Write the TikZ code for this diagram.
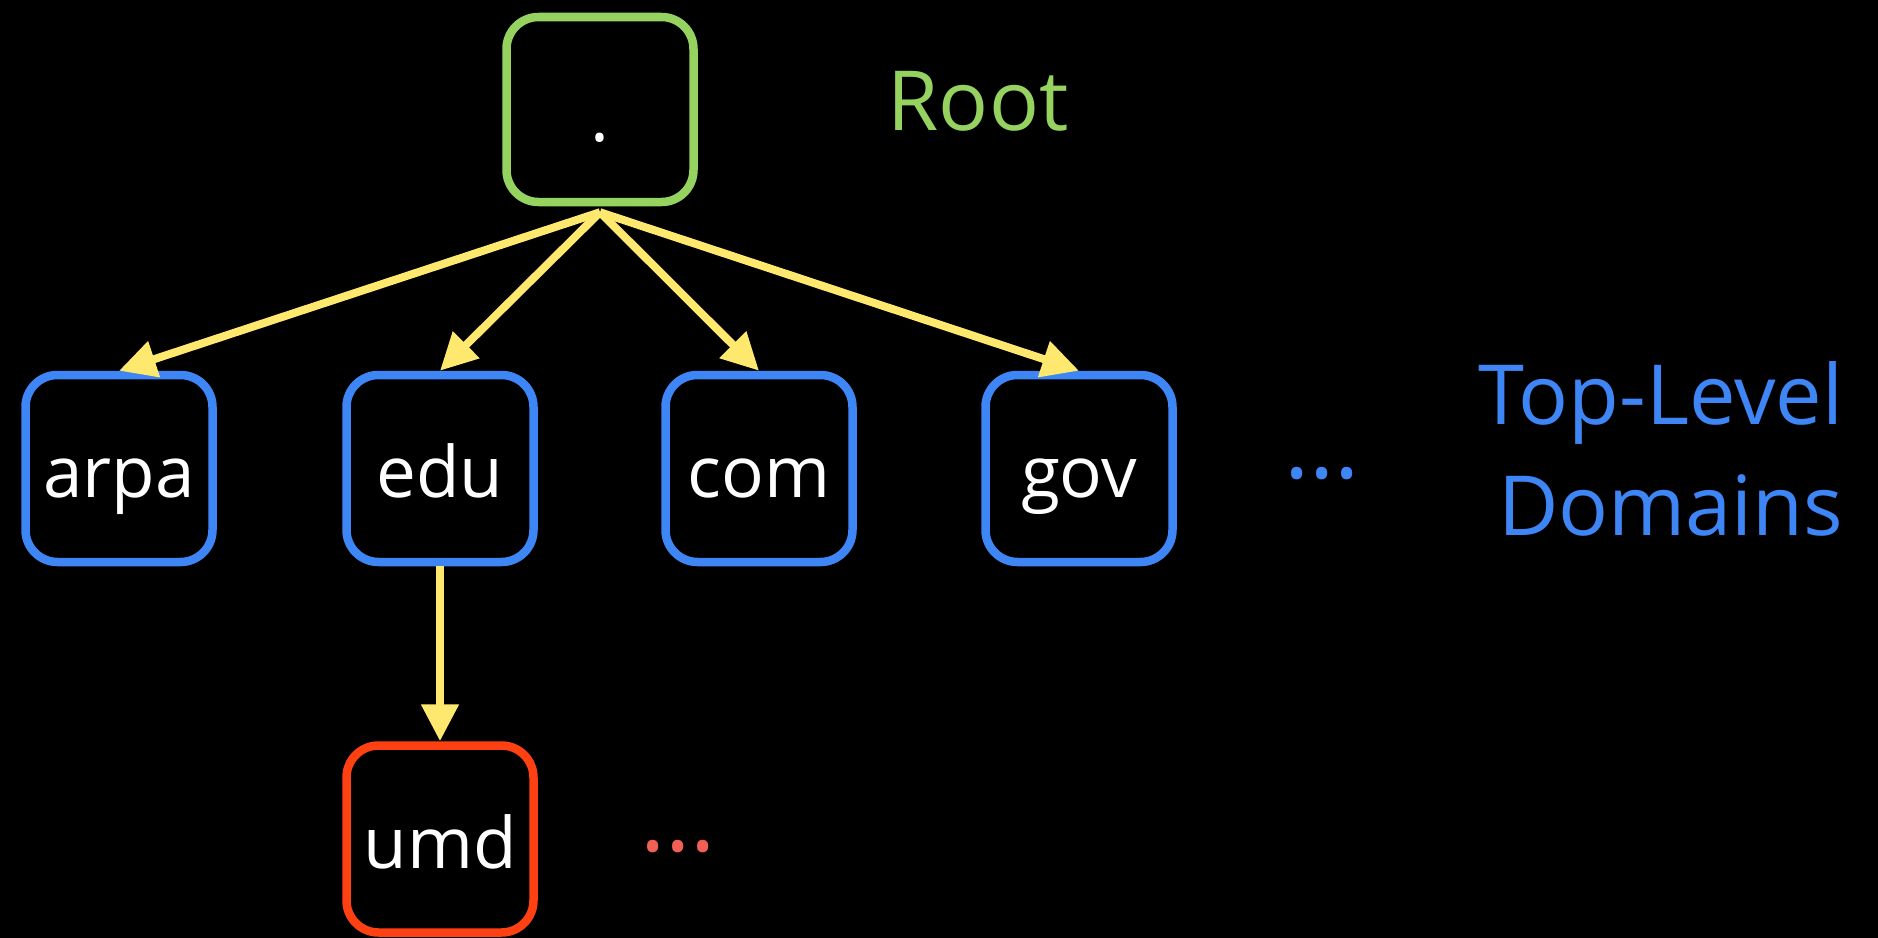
\documentclass[tikz,border=0pt]{standalone}
\usepackage{fontspec}
\setmainfont{Open Sans}
\usetikzlibrary{arrows.meta}
\definecolor{rootgreen}{RGB}{150,210,95}
\definecolor{tldblue}{RGB}{62,134,245}
\definecolor{linkyellow}{RGB}{255,232,110}
\definecolor{umdred}{RGB}{255,64,18}
\definecolor{dotred}{RGB}{240,96,85}
\begin{document}
\begin{tikzpicture}[every node/.style={rectangle, inner sep=0pt, text=white}, text centered,
	dnsbox/.style={draw, line width=.085cm, rounded corners=.32cm, minimum width=1.87cm, minimum height=1.87cm,
		font=\fontsize{20.2pt}{24pt}\selectfont, text height=.78cm, text depth=.2cm},
	link/.style={draw=linkyellow, line width=.08cm, -{Triangle[width=.36cm, length=.37cm]}},
	caption/.style={font=\fontsize{23.6pt}{31.3pt}\selectfont}]
	\fill[black] (0,0) rectangle (18.78,-9.38);
	\useasboundingbox (0,0) rectangle (18.78,-9.38);
	\node[dnsbox, draw=rootgreen, minimum height=1.85cm, text height=.81cm, text depth=.16cm] (root) at (6.00,-1.095) {.};
	\node[caption, text=rootgreen, anchor=base west] (rootText) at (8.87,-1.30) {Root};
	\node[dnsbox, draw=tldblue] (arpa) at (1.19,-4.685) {arpa};
	\node[dnsbox, draw=tldblue] (edu) at (4.40,-4.685) {edu};
	\node[dnsbox, draw=tldblue] (com) at (7.59,-4.685) {com};
	\node[dnsbox, draw=tldblue] (gov) at (10.79,-4.685) {gov};
	\node[font=\fontsize{27pt}{30pt}\selectfont, text=tldblue, anchor=base] (tldDots) at (13.22,-4.78) {...};
	\node[caption, text=tldblue, align=right, anchor=base east] (tldText) at (18.44,-5.35) {Top-Level\\Domains};
	\node[dnsbox, draw=umdred] (umd) at (4.40,-8.39) {umd};
	\node[font=\fontsize{27pt}{30pt}\selectfont, text=dotred, anchor=base] (umdDots) at (6.78,-8.51) {...};
	\draw[link] ([yshift=-.06cm]root.south) -- (arpa.north);
	\draw[link] ([yshift=-.06cm]root.south) -- (edu.north);
	\draw[link] ([yshift=-.06cm]root.south) -- (com.north);
	\draw[link] ([yshift=-.06cm]root.south) -- (gov.north);
	\draw[link] (edu.south) -- (umd.north);
\end{tikzpicture}
\end{document}
